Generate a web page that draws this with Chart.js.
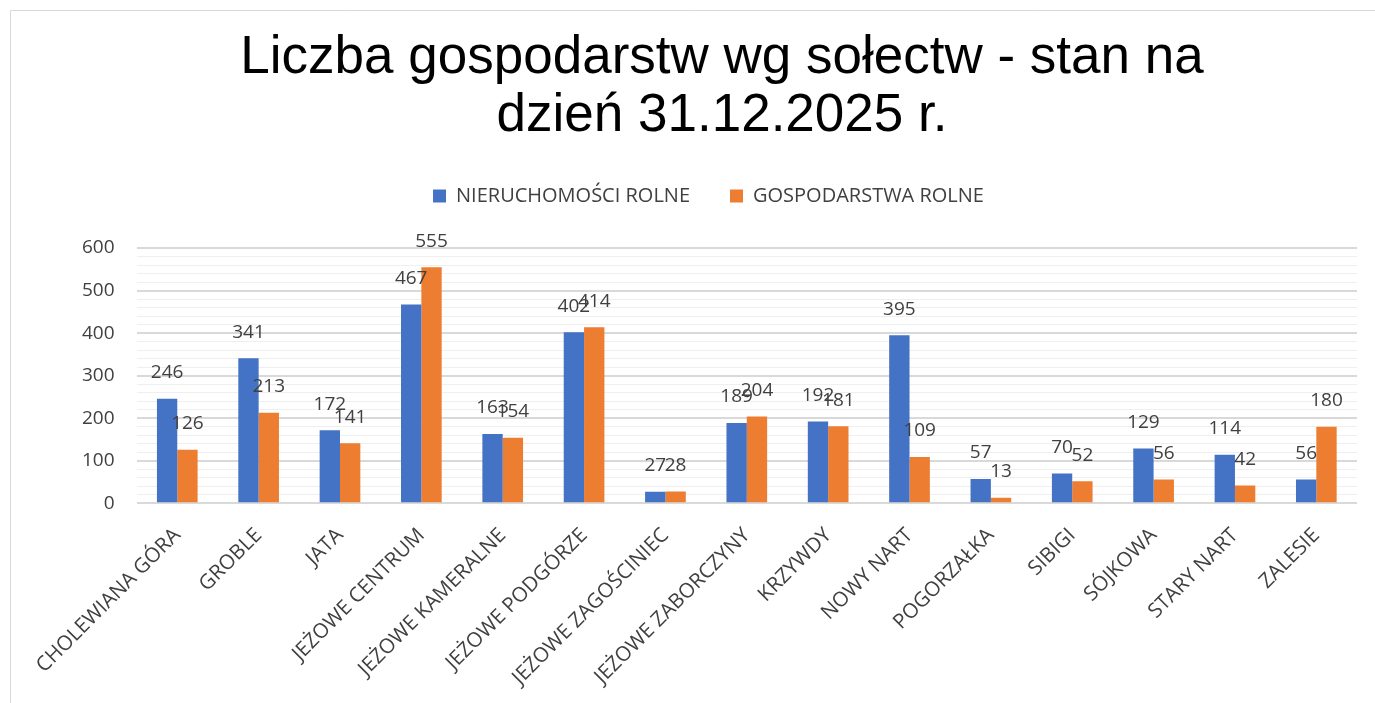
<!DOCTYPE html>
<html>
<head>
<meta charset="utf-8">
<script src="https://cdn.jsdelivr.net/npm/chart.js@4/dist/chart.umd.min.js"></script>
<style>
html,body{margin:0;padding:0;background:#fff;}
#wrap{position:absolute;left:0;top:0;width:1375px;height:703px;}
</style>
</head>
<body>
<div id="wrap"><canvas id="c" width="1375" height="703"></canvas></div>
<script>
const categories = ["CHOLEWIANA GÓRA","GROBLE","JATA","JEŻOWE CENTRUM","JEŻOWE KAMERALNE","JEŻOWE PODGÓRZE","JEŻOWE ZAGOŚCINIEC","JEŻOWE ZABORCZYNY","KRZYWDY","NOWY NART","POGORZAŁKA","SIBIGI","SÓJKOWA","STARY NART","ZALESIE"];
const nieruchomosci = [246,341,172,467,163,402,27,189,192,395,57,70,129,114,56];
const gospodarstwa = [126,213,141,555,154,414,28,204,181,109,13,52,56,42,180];
const seriesNames = ["NIERUCHOMOŚCI ROLNE","GOSPODARSTWA ROLNE"];
const titleLines = ["Liczba gospodarstw wg sołectw - stan na","dzień 31.12.2025 r."];
const yTickLabels = [0,100,200,300,400,500,600];

const frame = {
  id:'frame',
  beforeDraw(chart){
    const c = chart.ctx;
    c.save();
    c.fillStyle='#fff';
    c.fillRect(0,0,chart.width,chart.height);
    c.strokeStyle='#d9d9d9';
    c.lineWidth=1;
    c.beginPath();
    c.moveTo(10.5,703);c.lineTo(10.5,10.5);c.lineTo(1375,10.5);
    c.stroke();
    c.restore();
  }
};

const titlePlugin = {
  id:'bigTitle',
  afterDraw(chart){
    const c = chart.ctx;
    c.save();
    c.font = '53px "Liberation Sans", Arial, sans-serif';
    c.fillStyle = '#000';
    c.textAlign='center';
    c.textBaseline='alphabetic';
    c.fillText(titleLines[0], 722, 73);
    c.fillText(titleLines[1], 722, 131);
    c.restore();
  }
};

const legendMargin = {
  id:'legendMargin',
  beforeInit(chart){
    const orig = chart.legend.fit;
    chart.legend.fit = function(){ orig.call(this); this.height += 32; };
  }
};

const labelsPlugin = {
  id:'vlabels',
  afterDatasetsDraw(chart){
    const c = chart.ctx;
    c.save();
    c.font = '19px "Open Sans"';
    c.fillStyle = '#404040';
    c.textAlign='center';
    c.textBaseline='middle';
    chart.data.datasets.forEach((ds,i)=>{
      const meta = chart.getDatasetMeta(i);
      meta.data.forEach((bar,j)=>{
        c.fillText(String(ds.data[j]), bar.x, bar.y-26);
      });
    });
    c.restore();
  }
};

new Chart(document.getElementById('c'),{
  type:'bar',
  data:{
    labels:categories,
    datasets:[
      {label:seriesNames[0],data:nieruchomosci,backgroundColor:'#4472c4',categoryPercentage:0.5,barPercentage:1.0},
      {label:seriesNames[1],data:gospodarstwa,backgroundColor:'#ed7d31',categoryPercentage:0.5,barPercentage:1.0}
    ]
  },
  options:{
    responsive:false,
    animation:false,
    layout:{padding:{left:60,right:18,top:146,bottom:1}},
    plugins:{
      title:{display:false},
      legend:{display:true,position:'top',labels:{color:'#404040',font:{family:'"Open Sans"',size:20},boxWidth:13,boxHeight:13,padding:40}},
      tooltip:{enabled:false}
    },
    scales:{
      x:{
        grid:{display:false},
        border:{display:false},
        ticks:{color:'#404040',font:{family:'"Open Sans"',size:20.5},minRotation:45,maxRotation:45,autoSkip:false,padding:12}
      },
      y:{
        min:0,max:600,
        border:{display:false},
        grid:{
          color:(ctx)=> (ctx.tick && yTickLabels.includes(ctx.tick.value)) ? '#d9d9d9' : '#efefef',
          lineWidth:(ctx)=> (ctx.tick && yTickLabels.includes(ctx.tick.value)) ? 2 : 1,
          drawTicks:false
        },
        ticks:{
          stepSize:20,
          autoSkip:false,
          color:'#404040',
          font:{family:'"Open Sans"',size:19},
          padding:22,
          callback:(v)=> yTickLabels.includes(v) ? String(v) : ''
        }
      }
    }
  },
  plugins:[frame,legendMargin,titlePlugin,labelsPlugin]
});
</script>
</body>
</html>
